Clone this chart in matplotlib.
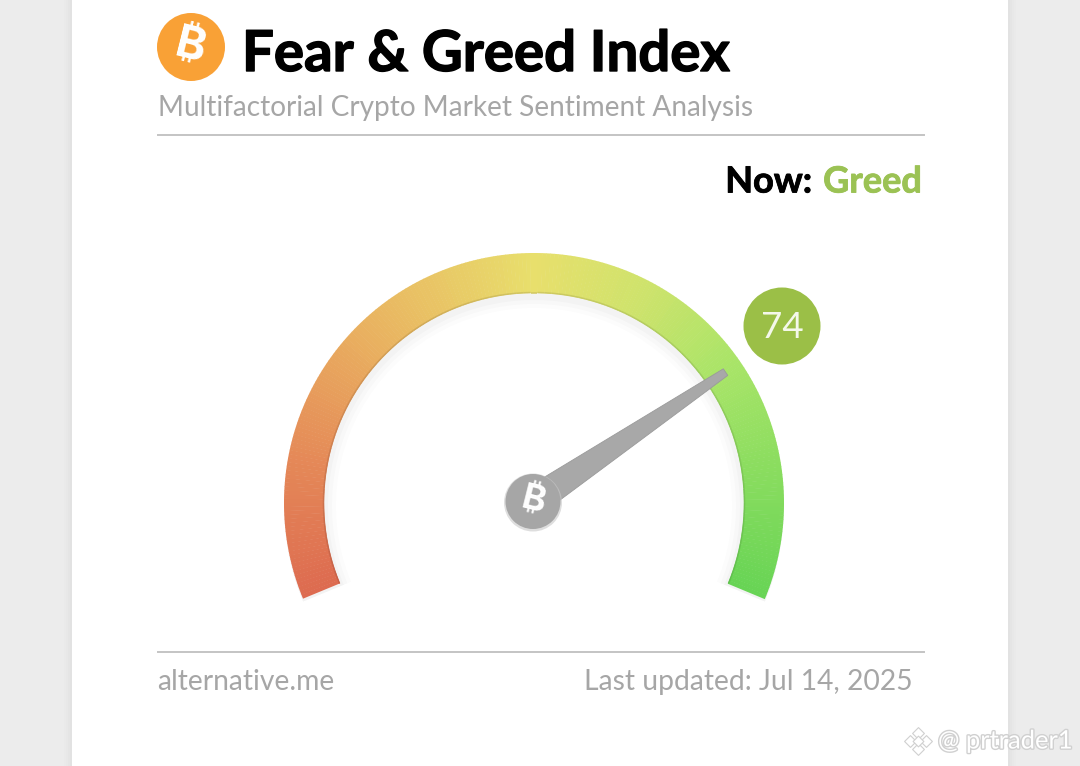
import numpy as np
import matplotlib
matplotlib.use('Agg')
import matplotlib.pyplot as plt
import matplotlib.patheffects as pe
from matplotlib.collections import LineCollection, PolyCollection
from matplotlib.colors import LinearSegmentedColormap
from matplotlib.patches import Circle, Polygon

# data
title = 'Fear & Greed Index'
subtitle = 'Multifactorial Crypto Market Sentiment Analysis'
now_label = 'Now:'
now_state = 'Greed'
index_value = 74
scale_min = 0
scale_max = 100
source = 'alternative.me'
updated = 'Last updated: Jul 14, 2025'
watermark = '@ prtrader1'
btc_sign = '\u20bf'
gauge_stops = [0.0, 0.15, 0.3, 0.5, 0.62, 0.75, 1.0]
gauge_colors = ['#dd6b50', '#e58a58', '#e9b160', '#e8df6c', '#cfe36c', '#a8e468', '#68d455']

plt.rcParams['font.family'] = ['Lato', 'DejaVu Sans']
btc_fonts = ['Inter', 'Noto Sans', 'Roboto', 'Open Sans', 'Noto Sans CJK SC', 'Lato', 'DejaVu Sans']

fig = plt.figure(figsize=(10.8, 7.66), dpi=100, facecolor='#ececec')
ax = fig.add_axes([0, 0, 1, 1])
ax.set_xlim(0, 1080)
ax.set_ylim(766, 0)
ax.axis('off')

# card with a faint edge shadow
for i, a in enumerate([0.006, 0.008, 0.01, 0.012]):
    ax.add_patch(plt.Rectangle((72 - 8 + i * 2, 0), 936 + 16 - i * 4, 766, fc='black', ec='none', alpha=a))
ax.add_patch(plt.Rectangle((72, 0), 936, 766, fc='white', ec='none'))

# header
ax.add_patch(Circle((191, 47), 34, fc='#f9a136', ec='none'))
ax.text(191, 47, btc_sign, color='white', fontsize=33, fontweight='bold', family=btc_fonts,
        ha='center', va='center', rotation=-14)
bold = [pe.withStroke(linewidth=1.0, foreground='black')]
ax.text(242, 55, title, fontsize=40.6, fontweight='bold', color='black', ha='left', va='center', path_effects=bold)
ax.text(158, 108, subtitle, fontsize=20.15, color='#a6a6a6', ha='left', va='center')
ax.plot([158, 924], [135, 135], color='#c4c4c4', lw=1.4)
ax.text(812, 182, now_label, fontsize=26, fontweight='bold', color='black', ha='right', va='center',
        path_effects=[pe.withStroke(linewidth=0.6, foreground='black')])
ax.text(922, 182, now_state, fontsize=26, fontweight='bold', color='#9bc254', ha='right', va='center',
        path_effects=[pe.withStroke(linewidth=0.6, foreground='#9bc254')])

# gauge
cx, cy = 534, 503
r_out, r_in = 250, 210
a_start, a_end = np.radians(202.5), np.radians(-22.5)


def to_angle(v):
    return a_start + (a_end - a_start) * (v - scale_min) / (scale_max - scale_min)


def ring(r0, r1, t0, t1, shift=0):
    th = np.linspace(t0, t1, 60)
    xo = cx + r1 * np.cos(th)
    yo = cy + shift - r1 * np.sin(th)
    xi = cx + r0 * np.cos(th[::-1])
    yi = cy + shift - r0 * np.sin(th[::-1])
    return np.column_stack([np.r_[xo, xi], np.r_[yo, yi]])


# soft shadow under the arc
for dr, a in [(12, 0.012), (8, 0.015), (4, 0.02)]:
    ax.add_patch(Polygon(ring(r_in - dr, r_out, to_angle(scale_min), to_angle(scale_max), shift=3),
                         fc='black', ec='none', alpha=a))

cmap = LinearSegmentedColormap.from_list('gauge', list(zip(gauge_stops, gauge_colors)))
edges = np.linspace(scale_min, scale_max, 241)
polys = [ring(r_in, r_out, to_angle(a), to_angle(b) - 0.002) for a, b in zip(edges[:-1], edges[1:])]
mids = (edges[:-1] + edges[1:]) / 2
ax.add_collection(PolyCollection(polys, facecolors=cmap((mids - scale_min) / (scale_max - scale_min)),
                                 edgecolors='none'))
# darker inner rim
full = np.linspace(scale_min, scale_max, 120)
th = to_angle(full)
rim_colors = cmap((full - scale_min) / (scale_max - scale_min))
rim_colors[:, :3] *= 0.9
rim = np.column_stack([cx + (r_in + 0.5) * np.cos(th), cy - (r_in + 0.5) * np.sin(th)])
ax.add_collection(LineCollection(np.stack([rim[:-1], rim[1:]], axis=1), colors=rim_colors[:-1], linewidths=1.1))

# needle, slightly off the scale angle as in the source widget
hx, hy = 533, 501.5
t = to_angle(index_value) - np.radians(2.1)
ux, uy = np.cos(t), -np.sin(t)
nx, ny = -uy, ux
tip = 232
needle = [(hx + 20 * ux + 14 * nx, hy + 20 * uy + 14 * ny),
          (hx + tip * ux + 4 * nx, hy + tip * uy + 4 * ny),
          (hx + tip * ux - 4 * nx, hy + tip * uy - 4 * ny),
          (hx + 20 * ux - 14 * nx, hy + 20 * uy - 14 * ny)]
ax.add_patch(Polygon(needle, fc='#a8a8a8', ec='#9a9a9a', lw=0.6, zorder=5))
ax.add_patch(Circle((hx, hy + 1), 29, fc='#c8c8c8', ec='none', zorder=6, alpha=0.6))
ax.add_patch(Circle((hx, hy), 27.5, fc='#a6a6a6', ec='none', zorder=6))
ax.text(hx, hy, btc_sign, color='white', fontsize=26, fontweight='bold', family=btc_fonts,
        ha='center', va='center', rotation=-14, zorder=7)

# value badge
ax.add_patch(Circle((782, 326), 38.5, fc='#9bbf47', ec='none', zorder=5))
ax.text(782, 327, str(index_value), fontsize=26.5, color='#f4f8ea', ha='center', va='center', zorder=6)

# footer
ax.plot([158, 924], [652, 652], color='#c4c4c4', lw=1.4)
ax.text(157, 682, source, fontsize=20.3, color='#a6a6a6', ha='left', va='center')
ax.text(913, 682, updated, fontsize=20.3, color='#a6a6a6', ha='right', va='center')

# watermark
shadow = [pe.withStroke(linewidth=2, foreground='#d0d0d0')]
ax.text(938, 741, watermark, fontsize=18.4, color='white', ha='left', va='center', path_effects=shadow, zorder=8)
for dx, dy, s in [(0, -8, 6), (-8, 0, 6), (8, 0, 6), (0, 8, 6), (0, 0, 5)]:
    ax.scatter(918 + dx, 741 + dy, marker='D', s=s * 6, fc='white', ec='#d0d0d0', lw=0.8, zorder=8)

fig.savefig('out.png', dpi=100, facecolor=fig.get_facecolor())
